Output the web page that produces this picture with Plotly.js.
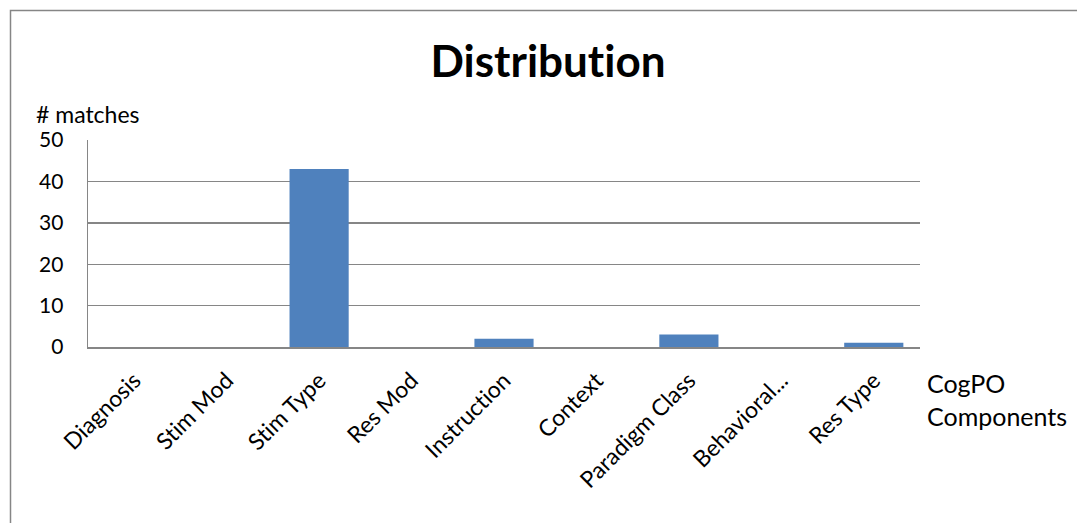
<!DOCTYPE html>
<html>
<head>
<meta charset="utf-8">
<script src="https://cdn.plot.ly/plotly-3.0.1.min.js"></script>
<style>
  html, body { margin: 0; padding: 0; background: #ffffff; }
  #chart { width: 1077px; height: 523px; }
  #chart text { font-variant-ligatures: none; font-feature-settings: "liga" 0; }
</style>
</head>
<body>
<div id="chart"></div>
<script>
// CogPO component match counts
const categories = ["Diagnosis", "Stim Mod", "Stim Type", "Res Mod", "Instruction",
                    "Context", "Paradigm Class", "Behavioral...", "Res Type"];
const matches = [0, 0, 43, 0, 2, 0, 3, 0, 1];
const yTicks = [0, 10, 20, 30, 40, 50];

const FONT = "Lato, 'Open Sans', sans-serif";
const GRID = "#868686";

// plot-area margins in pixels
const M = { l: 88, r: 157, t: 140, b: 176 };
const W = 1077, H = 523;
const pw = W - M.l - M.r, ph = H - M.t - M.b;
const px = x => (x - M.l) / pw;          // pixel x -> paper x
const py = y => (H - M.b - y) / ph;      // pixel y -> paper y

const trace = {
  type: "bar",
  x: categories,
  y: matches,
  marker: { color: "#4F81BD", line: { width: 0 } },
  hoverinfo: "x+y"
};

const layout = {
  width: W, height: H,
  margin: M,
  paper_bgcolor: "#ffffff",
  plot_bgcolor: "#ffffff",
  showlegend: false,
  bargap: 0.36,
  font: { family: FONT, size: 22, color: "#000000" },
  title: {
    text: "<b>Distribution</b>",
    font: { family: FONT, size: 44, color: "#000000" },
    x: 548 / W, xref: "container", xanchor: "center",
    y: 1 - 62 / H, yref: "container", yanchor: "middle"
  },
  xaxis: {
    type: "category",
    tickangle: -45,
    tickfont: { family: FONT, size: 23, color: "#000000" },
    ticks: "",
    ticklabelstandoff: 9,
    showgrid: false,
    showline: true, linecolor: GRID, linewidth: 2,
    zeroline: false,
    fixedrange: true
  },
  yaxis: {
    range: [0, 50],
    tickvals: yTicks,
    ticktext: yTicks.map(String),
    tickfont: { family: FONT, size: 21, color: "#000000" },
    ticks: "",
    ticklabelstandoff: 19,
    showgrid: true, gridcolor: GRID, gridwidth: 1.4,
    showline: true, linecolor: GRID, linewidth: 1.4,
    zeroline: false,
    fixedrange: true
  },
  annotations: [
    {
      text: "# matches", xref: "paper", yref: "paper",
      x: px(34), y: py(114), xanchor: "left", yanchor: "middle",
      showarrow: false, font: { family: FONT, size: 23, color: "#000000" }
    },
    {
      text: "CogPO<br>Components", xref: "paper", yref: "paper",
      x: px(925), y: py(399), xanchor: "left", yanchor: "middle", align: "left",
      showarrow: false, font: { family: FONT, size: 25, color: "#000000" }
    }
  ],
  shapes: [
    {
      type: "rect", xref: "paper", yref: "paper",
      x0: px(10.5), x1: px(1090), y0: py(10.5), y1: py(540),
      line: { color: "#868686", width: 1.5 }, fillcolor: "rgba(0,0,0,0)"
    }
  ]
};

Plotly.newPlot("chart", [trace], layout, { displayModeBar: false, staticPlot: true });
</script>
</body>
</html>
